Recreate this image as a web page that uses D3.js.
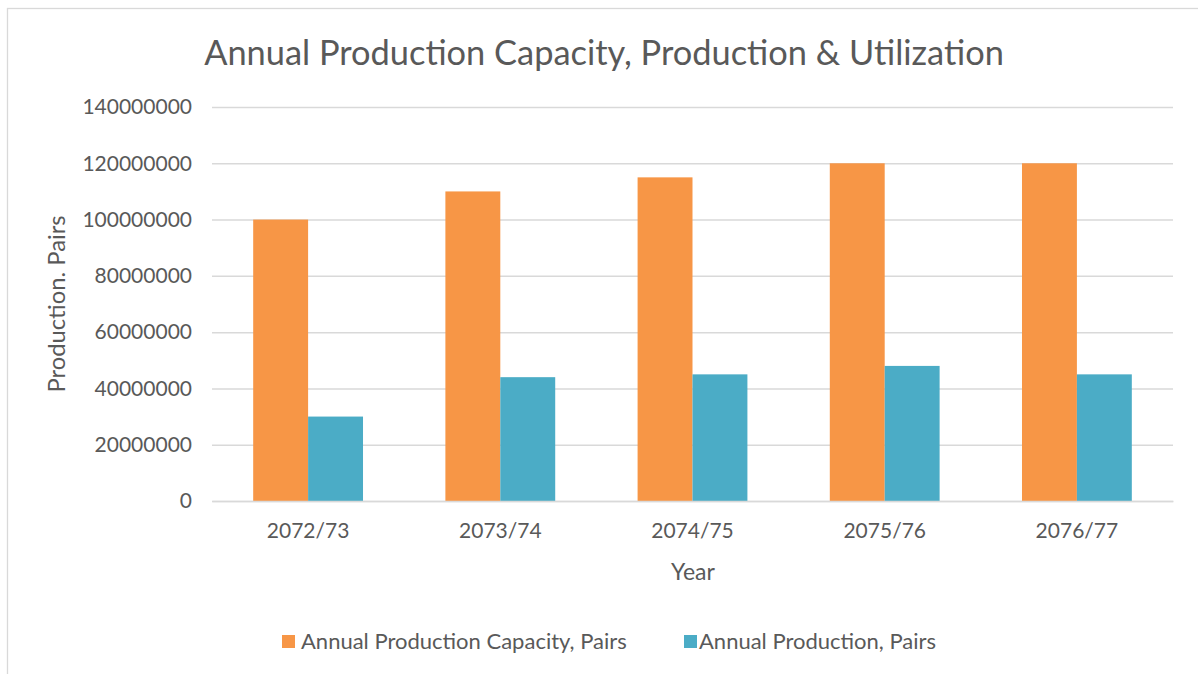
<!DOCTYPE html>
<html><head><meta charset="utf-8">
<script src="https://cdn.jsdelivr.net/npm/d3@7"></script>
<style>body{margin:0;background:#fff}svg{display:block}text{font-family:Lato,"Open Sans",sans-serif;fill:#595959}</style>
</head><body><svg id="c" width="1198" height="674"></svg>
<script>
const categories = ["2072/73","2073/74","2074/75","2075/76","2076/77"];
const seriesNames = ["Annual Production Capacity, Pairs","Annual Production, Pairs"];
const capacity = [100000000,110000000,115000000,120000000,120000000];
const production = [30000000,44000000,45000000,48000000,45000000];
const yTicks = [0,20000000,40000000,60000000,80000000,100000000,120000000,140000000];
const colors = ["#F79646","#4BACC6"];
const title = "Annual Production Capacity, Production & Utilization";
const xTitle = "Year", yTitle = "Production. Pairs";

const svg = d3.select("#c");
svg.append("rect").attr("x",7.5).attr("y",8.5).attr("width",1200).attr("height",700)
  .attr("fill","#fff").attr("stroke","#d9d9d9").attr("stroke-width",1.3);

const L=212,R=1173,T=107,B=501;
const x = d3.scaleBand().domain(categories).range([L,R]).paddingInner(0.4286).paddingOuter(0.2143);
const x1 = d3.scaleBand().domain([0,1]).range([0,x.bandwidth()]);
const y = d3.scaleLinear().domain([0,140000000]).range([B,T]);

const yAxis = svg.append("g").attr("transform",`translate(${L},0)`)
  .call(d3.axisLeft(y).tickValues(yTicks).tickSize(-(R-L)).tickFormat(d3.format("d")).tickPadding(20));
yAxis.select(".domain").remove();
yAxis.selectAll("line").attr("stroke","#d9d9d9").attr("stroke-width",1.5);
yAxis.selectAll("text").attr("font-size",21).attr("fill","#595959").attr("font-family","Lato");

const data = categories.map((c,i)=>({c, v:[capacity[i],production[i]]}));
const g = svg.append("g");
data.forEach(d=>{
  d.v.forEach((v,k)=>{
    g.append("rect").attr("x",x(d.c)+x1(k)).attr("width",x1.bandwidth())
      .attr("y",y(v)).attr("height",y(0)-y(v)).attr("fill",colors[k]);
  });
});

const xAxis = svg.append("g").attr("transform",`translate(0,${B})`)
  .call(d3.axisBottom(x).tickSize(0).tickPadding(22));
xAxis.select(".domain").attr("stroke","#d9d9d9").attr("stroke-width",1.5);
xAxis.selectAll("text").attr("font-size",21).attr("fill","#595959").attr("font-family","Lato");

svg.append("text").attr("x",604).attr("y",65).attr("text-anchor","middle").attr("font-size",34.4).text(title);
svg.append("text").attr("x",693).attr("y",580).attr("text-anchor","middle").attr("font-size",23).text(xTitle);
svg.append("text").attr("transform","translate(65,304) rotate(-90)").attr("text-anchor","middle").attr("font-size",23.8).text(yTitle);

const leg = [{sx:282, tx:301},{sx:684, tx:699}];
seriesNames.forEach((n,i)=>{
  svg.append("rect").attr("x",leg[i].sx).attr("y",635).attr("width",13).attr("height",13).attr("fill",colors[i]);
  svg.append("text").attr("x",leg[i].tx).attr("y",649).attr("font-size",22).text(n);
});
</script></body></html>
